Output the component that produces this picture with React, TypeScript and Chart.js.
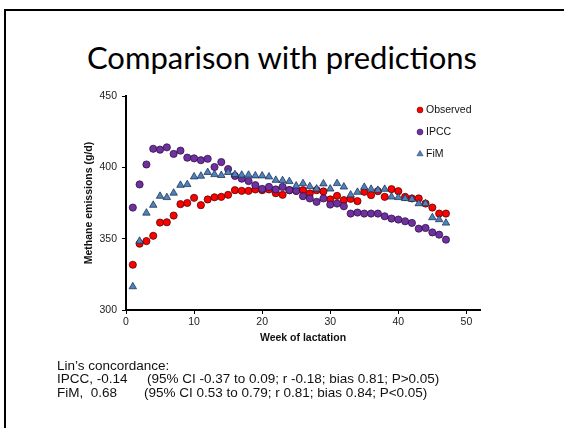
import React, { useEffect, useRef } from 'react';
import { Chart, registerables } from 'chart.js';

Chart.register(...registerables);

const weeks = [1,2,3,4,5,6,7,8,9,10,11,12,13,14,15,16,17,18,19,20,21,22,23,24,25,26,27,28,29,30,31,32,33,34,35,36,37,38,39,40,41,42,43,44,45,46,47];
const observed = [331.7,346.5,348.3,352,361.3,361.5,366.2,374.2,375,378.6,373.5,377.5,379,379.3,380.7,384,383.5,383.5,384.5,384,384.5,381.9,380.7,384,383.5,384,381.7,384,383.1,377.5,380,377,377.9,376.3,382.8,380.5,383.3,379.3,384.7,383.3,379.3,378.2,378.2,374.6,371.8,367.6,367.6];
const ipcc = [371.8,388,402,413,412.4,414,409.4,411.7,406.8,406.3,405,406,400.2,403.7,398.8,394,392,390.4,387.5,384.9,386.3,384.5,386.3,384,383.5,379.8,378.2,375.8,378.2,373.9,374.6,372.7,367.6,368.3,367.6,367.6,367.6,365.7,364.1,363.4,362.2,361,357,357.5,354.4,352.8,349.3];
const fim = [316.4,348.3,368,373.5,379.8,378.9,382,387.5,388,393.4,393.9,396.5,395,394.4,396.5,395,394.6,394.6,394.1,394.1,393.4,391,390.8,390.1,387,388.7,386.6,384.9,388.5,384.9,388.7,386.3,380.7,382.6,386.1,384.7,384,384.7,379.3,378.9,378.2,377.7,374.6,374.6,364.8,363.4,361];
const xTickValues = [0, 10, 20, 30, 40, 50];
const yTickValues = [300, 350, 400, 450];
const seriesNames = ['Observed', 'IPCC', 'FiM'];

const FONT = '"Liberation Sans", Arial, sans-serif';

const styles = [
  { bg: '#ff0000', border: '#4a0000', shape: 'circle', r: 3.6 },
  { bg: '#7030a0', border: '#2a1040', shape: 'circle', r: 3.6 },
  { bg: '#4f81bd', border: '#1a2f4d', shape: 'triangle', r: 4.3 },
];

const legendPlugin = {
  id: 'customLegend',
  afterDraw(chart: any) {
    const ctx = chart.ctx;
    const ys = [110, 132, 154];
    ctx.save();
    seriesNames.forEach((name, i) => {
      const s = styles[i];
      const x = 420;
      const y = ys[i];
      ctx.beginPath();
      if (s.shape === 'circle') {
        ctx.arc(x, y, 3, 0, Math.PI * 2);
      } else {
        const r = 3.6;
        ctx.moveTo(x, y - r);
        ctx.lineTo(x + r * 0.866, y + r * 0.5);
        ctx.lineTo(x - r * 0.866, y + r * 0.5);
        ctx.closePath();
      }
      ctx.fillStyle = s.bg;
      ctx.fill();
      ctx.lineWidth = 0.5;
      ctx.strokeStyle = s.border;
      ctx.stroke();
      ctx.fillStyle = '#111';
      ctx.font = `10.5px ${FONT}`;
      ctx.textBaseline = 'middle';
      ctx.textAlign = 'left';
      ctx.fillText(name, 426, y + 0.5);
    });
    ctx.restore();
  },
};

export default function App() {
  const ref = useRef<HTMLCanvasElement | null>(null);

  useEffect(() => {
    if (!ref.current) return;
    const mk = (vals: number[]) => weeks.map((w, i) => ({ x: w, y: vals[i] }));
    const datasets = [observed, ipcc, fim].map((vals, i) => ({
      label: seriesNames[i],
      data: mk(vals),
      pointStyle: styles[i].shape,
      pointRadius: styles[i].r,
      pointHoverRadius: styles[i].r,
      backgroundColor: styles[i].bg,
      borderColor: styles[i].border,
      borderWidth: 0.75,
      order: 3 - i,
    }));
    const chart = new Chart(ref.current, {
      type: 'scatter',
      data: { datasets },
      plugins: [legendPlugin],
      options: {
        animation: false,
        responsive: false,
        maintainAspectRatio: false,
        layout: { padding: { left: 0, top: 96, right: 84, bottom: 78 } },
        plugins: { legend: { display: false }, tooltip: { enabled: false } },
        scales: {
          x: {
            type: 'linear',
            min: 0,
            max: 52,
            afterBuildTicks: (s: any) => {
              s.ticks = xTickValues.map((v) => ({ value: v }));
            },
            afterFit: (s: any) => {
              s.height = 40;
            },
            grid: { drawOnChartArea: false, drawTicks: true, tickLength: 4, color: '#000', lineWidth: 1 },
            border: { display: true, color: '#000', width: 2 },
            ticks: { padding: 2, color: '#222', maxRotation: 0, font: { family: FONT, size: 10.5 } },
            title: {
              display: true,
              text: 'Week of lactation',
              color: '#111',
              font: { family: FONT, size: 10.5, weight: 'bold' },
              padding: { top: 0, bottom: 5.7 },
            },
          },
          y: {
            type: 'linear',
            min: 300,
            max: 450,
            afterBuildTicks: (s: any) => {
              s.ticks = yTickValues.map((v) => ({ value: v }));
            },
            afterFit: (s: any) => {
              s.width = 126;
            },
            grid: { drawOnChartArea: false, drawTicks: true, tickLength: 4, color: '#000', lineWidth: 1 },
            border: { display: true, color: '#000', width: 2 },
            ticks: { padding: 5, color: '#222', font: { family: FONT, size: 10.5 } },
            title: {
              display: true,
              text: 'Methane emissions (g/d)',
              color: '#111',
              font: { family: FONT, size: 10.5, weight: 'bold' },
              padding: { top: 82.7, bottom: 0 },
            },
          },
        },
      },
    } as any);
    return () => chart.destroy();
  }, []);

  const textStyle: React.CSSProperties = {
    position: 'absolute',
    fontFamily: FONT,
    fontSize: '13.5px',
    lineHeight: '14px',
    color: '#111',
    whiteSpace: 'pre',
  };

  return (
    <div style={{ position: 'fixed', left: 0, top: 0, width: 564, height: 428, background: '#fff', overflow: 'hidden' }}>
      <div style={{ position: 'absolute', left: 4, top: 9, width: 700, height: 600, borderTop: '2px solid #000', borderLeft: '2px solid #000' }} />
      <div style={{ position: 'absolute', left: 0, top: 42, width: 564, textAlign: 'center', fontFamily: 'Lato, sans-serif', fontSize: '31px', lineHeight: '31px', color: '#000' }}>
        Comparison with predictions
      </div>
      <canvas ref={ref} width={564} height={428} style={{ position: 'absolute', left: 0, top: 0, width: 564, height: 428 }} />
      <div style={{ ...textStyle, left: 57, top: 359 }}>Lin’s concordance:</div>
      <div style={{ ...textStyle, left: 57, top: 372 }}>IPCC, -0.14</div>
      <div style={{ ...textStyle, left: 147, top: 372 }}>(95% CI -0.37 to 0.09; r -0.18; bias 0.81; P&gt;0.05)</div>
      <div style={{ ...textStyle, left: 57, top: 386 }}>FiM,</div>
      <div style={{ ...textStyle, left: 90.7, top: 386 }}>0.68</div>
      <div style={{ ...textStyle, left: 144, top: 386 }}>(95% CI 0.53 to 0.79; r 0.81; bias 0.84; P&lt;0.05)</div>
    </div>
  );
}
